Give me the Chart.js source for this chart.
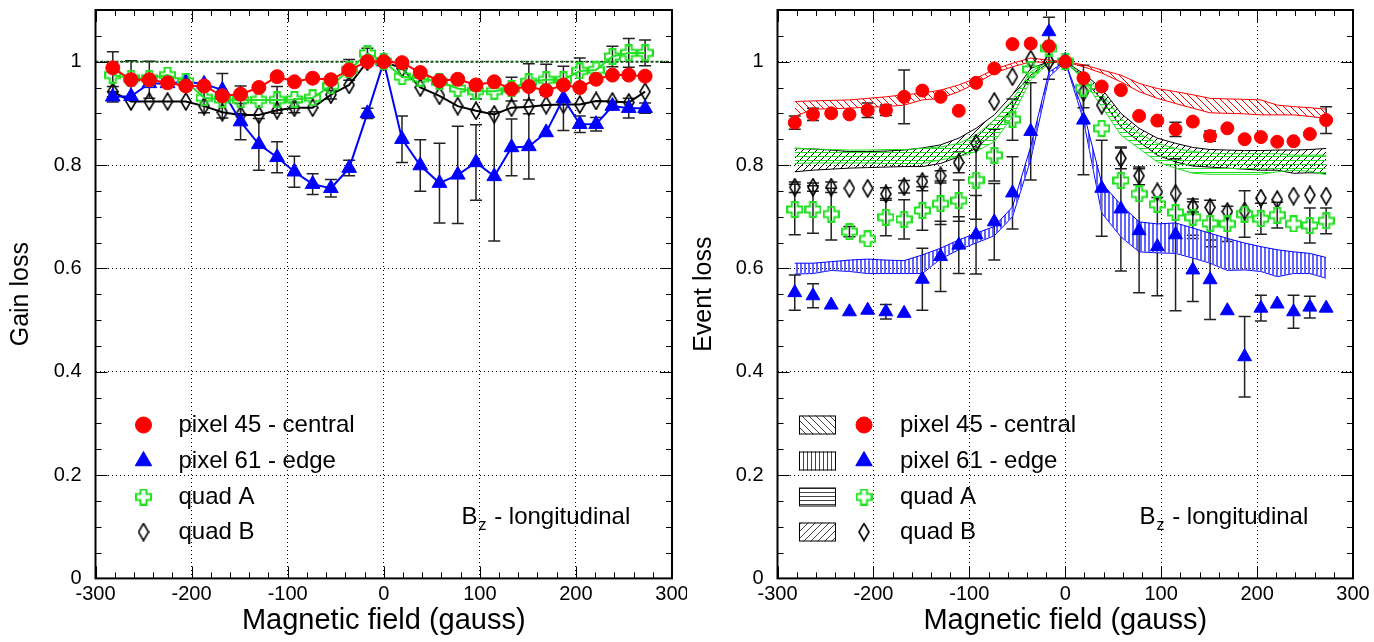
<!DOCTYPE html>
<html>
<head>
<meta charset="utf-8">
<script src="https://cdn.jsdelivr.net/npm/chart.js@4/dist/chart.umd.min.js"></script>
<style>
  html, body { margin: 0; padding: 0; background: #fff; }
  #wrap { display: flex; width: 1374px; height: 642px; }
  canvas { display: block; }
</style>
</head>
<body>
<div id="wrap">
  <canvas id="gainChart" width="687" height="642"></canvas>
  <canvas id="eventChart" width="687" height="642"></canvas>
</div>
<script>
// magnetic field values (gauss), shared by every series
var FIELD = [-282, -263, -244, -225, -206, -187, -168, -149, -130, -111, -93, -74, -55, -36, -17, 0,
             19, 38, 58, 77, 96, 115, 133, 151, 169, 187, 204, 221, 238, 255, 272];

var SERIES_NAMES = ['pixel 45 - central', 'pixel 61 - edge', 'quad A', 'quad B'];
var X_TICKS = [-300, 300, 100];
var Y_TICKS = [0, 1.1, 0.2];

// ---- left panel: gain loss ----
var gainPix45 = [0.988, 0.965, 0.965, 0.959, 0.953, 0.953, 0.934, 0.937, 0.950, 0.971, 0.961, 0.968, 0.965, 0.984, 1.0, 1.0,
                 0.998, 0.979, 0.963, 0.966, 0.955, 0.961, 0.947, 0.952, 0.944, 0.955, 0.950, 0.966, 0.974, 0.974, 0.972];
var gainPix61 = [0.932, 0.933, 0.958, 0.958, 0.961, 0.957, 0.945, 0.884, 0.840, 0.815, 0.787, 0.763, 0.755, 0.794, 0.900, 1.0,
                 0.850, 0.799, 0.765, 0.781, 0.805, 0.778, 0.834, 0.836, 0.863, 0.929, 0.879, 0.879, 0.914, 0.910, 0.910];
var gainQuadA = [0.974, 0.968, 0.968, 0.974, 0.962, 0.930, 0.927, 0.926, 0.926, 0.926, 0.927, 0.930, 0.953, 0.984, 1.016, 1.0,
                 0.971, 0.968, 0.961, 0.948, 0.943, 0.943, 0.948, 0.961, 0.965, 0.965, 0.982, 0.984, 1.010, 1.017, 1.017];
var gainQuadB = [0.942, 0.923, 0.923, 0.923, 0.923, 0.914, 0.902, 0.897, 0.897, 0.906, 0.911, 0.911, 0.936, 0.955, 1.0, 1.0,
                 0.987, 0.950, 0.934, 0.914, 0.905, 0.898, 0.911, 0.913, 0.916, 0.917, 0.917, 0.924, 0.923, 0.921, 0.942];

var gainPix45Err = [0, 0.037, 0.036, 0, 0, 0, 0.043, 0, 0, 0, 0, 0, 0, 0.02, 0, 0,
                    0, 0, 0, 0, 0, 0, 0.023, 0, 0, 0, 0, 0, 0, 0, 0];
var gainPix61Err = [0.01, 0, 0, 0, 0, 0, 0, 0.035, 0.05, 0.03, 0.03, 0.02, 0.017, 0.015, 0.01, 0,
                    0.045, 0.05, 0.077, 0.094, 0.073, 0.125, 0.055, 0.063, 0, 0.062, 0.016, 0.013, 0, 0.019, 0.01];
var gainQuadAErr = [0.045, 0, 0, 0, 0, 0.029, 0, 0.027, 0, 0.026, 0, 0, 0, 0, 0.01, 0,
                    0, 0, 0, 0, 0.015, 0, 0, 0.035, 0.03, 0, 0.025, 0, 0.02, 0.028, 0.025];
var gainQuadBErr = [0.01, 0, 0, 0, 0, 0, 0, 0, 0, 0, 0.01, 0, 0.008, 0, 0, 0,
                    0, 0, 0, 0, 0, 0, 0, 0, 0, 0, 0, 0, 0, 0, 0];

// ---- right panel: event loss (measured points) ----
var evPix45 = [0.882, 0.898, 0.900, 0.898, 0.906, 0.906, 0.932, 0.944, 0.932, 0.905, 0.959, 0.987, 1.034, 1.035, 1.030, 1.0,
               0.968, 0.952, 0.945, 0.895, 0.886, 0.869, 0.884, 0.856, 0.871, 0.850, 0.854, 0.845, 0.846, 0.860, 0.887];
var evPix61 = [0.553, 0.547, 0.529, 0.516, 0.519, 0.516, 0.513, 0.579, 0.623, 0.645, 0.665, 0.690, 0.746, 0.865, 1.058, 1.0,
               0.887, 0.755, 0.715, 0.673, 0.642, 0.665, 0.597, 0.578, 0.518, 0.429, 0.523, 0.531, 0.516, 0.525, 0.523];
var evQuadA = [0.714, 0.714, 0.705, 0.671, 0.657, 0.699, 0.695, 0.712, 0.725, 0.731, 0.771, 0.819, 0.888, 0.985, 1.026, 1.0,
               0.949, 0.871, 0.770, 0.744, 0.724, 0.708, 0.699, 0.687, 0.686, 0.705, 0.696, 0.703, 0.686, 0.683, 0.692];
var evQuadB = [0.757, 0.757, 0.757, 0.755, 0.755, 0.744, 0.758, 0.768, 0.779, 0.805, 0.842, 0.923, 0.971, 1.005, 1.0, 1.0,
               0.941, 0.916, 0.813, 0.779, 0.748, 0.745, 0.719, 0.718, 0.710, 0.711, 0.736, 0.733, 0.740, 0.742, 0.740];

var evPix45Err = [0.013, 0.012, 0, 0, 0.014, 0.01, 0.052, 0, 0, 0, 0, 0, 0, 0, 0, 0,
                  0, 0, 0, 0, 0, 0.014, 0, 0.01, 0, 0, 0, 0, 0, 0, 0.026];
var evPix61Err = [0.034, 0.023, 0, 0, 0, 0.014, 0, 0.06, 0.068, 0.055, 0.076, 0.074, 0.07, 0.094, 0, 0,
                  0.106, 0.093, 0.12, 0.12, 0.095, 0.147, 0.061, 0.077, 0, 0.078, 0.025, 0, 0.032, 0.021, 0];
var evQuadAErr = [0.049, 0.046, 0.05, 0.01, 0, 0.036, 0.038, 0.038, 0.04, 0.04, 0.076, 0.05, 0.04, 0, 0.06, 0,
                  0, 0, 0, 0, 0, 0, 0.035, 0.045, 0.034, 0.045, 0.03, 0.025, 0, 0.034, 0.025];
var evQuadBErr = [0.01, 0.008, 0.01, 0, 0, 0.012, 0.012, 0.01, 0.01, 0.02, 0, 0, 0, 0, 0, 0,
                  0.03, 0, 0.02, 0.017, 0, 0, 0.01, 0, 0, 0, 0, 0, 0, 0, 0];

// ---- right panel: expected bands (upper / lower edge) ----
var bandPix45Hi = [0.923, 0.924, 0.925, 0.926, 0.929, 0.932, 0.936, 0.939, 0.945, 0.955, 0.968, 0.985, 0.997, 1.007, 1.003, 1.0,
                   0.994, 0.984, 0.974, 0.958, 0.948, 0.942, 0.936, 0.929, 0.928, 0.927, 0.926, 0.916, 0.913, 0.911, 0.908];
var bandPix45Lo = [0.894, 0.908, 0.909, 0.910, 0.912, 0.913, 0.916, 0.926, 0.929, 0.942, 0.958, 0.978, 0.990, 1.0, 0.998, 1.0,
                   0.990, 0.978, 0.961, 0.942, 0.929, 0.919, 0.910, 0.901, 0.900, 0.899, 0.897, 0.897, 0.897, 0.894, 0.890];
var bandPix61Hi = [0.610, 0.610, 0.613, 0.616, 0.618, 0.616, 0.615, 0.626, 0.639, 0.655, 0.668, 0.681, 0.719, 0.836, 0.980, 1.0,
                   0.903, 0.765, 0.723, 0.690, 0.686, 0.688, 0.678, 0.668, 0.658, 0.649, 0.642, 0.636, 0.632, 0.629, 0.621];
var bandPix61Lo = [0.589, 0.590, 0.596, 0.594, 0.590, 0.590, 0.590, 0.590, 0.618, 0.636, 0.649, 0.663, 0.700, 0.810, 0.970, 1.0,
                   0.887, 0.707, 0.661, 0.632, 0.630, 0.629, 0.620, 0.610, 0.596, 0.597, 0.594, 0.584, 0.590, 0.590, 0.581];
var bandQuadAHi = [0.833, 0.831, 0.830, 0.829, 0.829, 0.830, 0.830, 0.832, 0.835, 0.842, 0.858, 0.887, 0.926, 0.981, 1.0, 1.0,
                   0.974, 0.939, 0.890, 0.861, 0.842, 0.832, 0.826, 0.823, 0.822, 0.822, 0.822, 0.822, 0.819, 0.819, 0.819];
var bandQuadALo = [0.803, 0.804, 0.804, 0.804, 0.804, 0.803, 0.803, 0.803, 0.810, 0.816, 0.826, 0.845, 0.894, 0.965, 0.997, 1.0,
                   0.965, 0.913, 0.858, 0.832, 0.806, 0.794, 0.784, 0.782, 0.782, 0.782, 0.782, 0.787, 0.790, 0.788, 0.781];
var bandQuadBHi = [0.832, 0.831, 0.829, 0.826, 0.826, 0.827, 0.829, 0.833, 0.839, 0.852, 0.871, 0.897, 0.936, 0.987, 1.0, 1.0,
                   0.977, 0.948, 0.900, 0.871, 0.852, 0.842, 0.834, 0.830, 0.829, 0.828, 0.828, 0.829, 0.829, 0.830, 0.832];
var bandQuadBLo = [0.787, 0.790, 0.792, 0.794, 0.795, 0.796, 0.797, 0.797, 0.803, 0.816, 0.832, 0.864, 0.910, 0.974, 0.998, 1.0,
                   0.968, 0.926, 0.874, 0.845, 0.819, 0.806, 0.798, 0.796, 0.794, 0.792, 0.790, 0.790, 0.784, 0.785, 0.784];

var RED = '#ff0000', BLUE = '#0000ff', GREEN = '#22e022', BLACK = '#000000';
var FONT = "'Liberation Sans', Arial, Helvetica, sans-serif";

Chart.defaults.font.family = FONT;
Chart.defaults.color = '#000';

function pts(ys) {
  return FIELD.map(function (x, i) { return {x: x, y: ys[i]}; });
}

// hatch fill used for the bands
function hatch(kind, color, size, thick) {
  var c = document.createElement('canvas');
  c.width = size; c.height = size;
  var g = c.getContext('2d');
  g.strokeStyle = color;
  g.fillStyle = color;
  g.lineWidth = 1;
  g.beginPath();
  if (kind === 'back') {
    [-size, 0, size].forEach(function (o) { g.moveTo(o, 0); g.lineTo(o + size, size); });
  } else if (kind === 'fwd') {
    [-size, 0, size].forEach(function (o) { g.moveTo(o, size); g.lineTo(o + size, 0); });
  } else if (kind === 'vert') {
    if (thick) { g.fillRect(1, 0, 2, size); } else { g.moveTo(0.5, 0); g.lineTo(0.5, size); }
  } else {
    g.moveTo(0, 0.5); g.lineTo(size, 0.5);
  }
  g.stroke();
  return g.createPattern(c, 'repeat');
}

function plusMarker(size) {
  var c = document.createElement('canvas');
  c.width = size + 2; c.height = size + 2;
  var g = c.getContext('2d');
  var m = (size + 2) / 2, r = size / 2, a = size / 5;
  g.strokeStyle = GREEN;
  g.lineWidth = 2;
  g.beginPath();
  g.moveTo(m - a, m - r); g.lineTo(m + a, m - r); g.lineTo(m + a, m - a); g.lineTo(m + r, m - a);
  g.lineTo(m + r, m + a); g.lineTo(m + a, m + a); g.lineTo(m + a, m + r); g.lineTo(m - a, m + r);
  g.lineTo(m - a, m + a); g.lineTo(m - r, m + a); g.lineTo(m - r, m - a); g.lineTo(m - a, m - a);
  g.closePath();
  g.stroke();
  return c;
}

function diamondMarker(w, h) {
  var c = document.createElement('canvas');
  c.width = w + 2; c.height = h + 2;
  var g = c.getContext('2d');
  g.strokeStyle = BLACK;
  g.lineWidth = 1.6;
  g.beginPath();
  g.moveTo(w / 2 + 1, 1); g.lineTo(w + 1, h / 2 + 1); g.lineTo(w / 2 + 1, h + 1); g.lineTo(1, h / 2 + 1);
  g.closePath();
  g.stroke();
  return c;
}

var plusImg = plusMarker(15);
var diamondImg = diamondMarker(10, 17);

var MARKERS = [
  {pointStyle: 'circle', radius: 7, color: RED},
  {pointStyle: 'triangle', radius: 8.5, color: BLUE},
  {pointStyle: plusImg, radius: 8, color: GREEN},
  {pointStyle: diamondImg, radius: 8, color: BLACK}
];

var KEY_PATTERNS = [hatch('back', '#444', 7), hatch('vert', '#444', 4), hatch('horiz', '#444', 4), hatch('fwd', '#444', 7)];

// error bars, drawn under the markers
var errorBars = {
  id: 'errorBars',
  beforeDatasetsDraw: function (chart) {
    var ctx = chart.ctx, xs = chart.scales.x, ys = chart.scales.y;
    ctx.save();
    ctx.strokeStyle = '#222';
    ctx.lineWidth = 1.5;
    chart.data.datasets.forEach(function (ds) {
      if (!ds.errors) return;
      ds.data.forEach(function (p, i) {
        var e = ds.errors[i];
        if (!e) return;
        var px = xs.getPixelForValue(p.x);
        var top = ys.getPixelForValue(p.y + e), bot = ys.getPixelForValue(p.y - e);
        ctx.beginPath();
        ctx.moveTo(px, top); ctx.lineTo(px, bot);
        ctx.moveTo(px - 6, top); ctx.lineTo(px + 6, top);
        ctx.moveTo(px - 6, bot); ctx.lineTo(px + 6, bot);
        ctx.stroke();
      });
    });
    ctx.restore();
  }
};

// dark green dotted line at unity (left panel only)
var unityLine = {
  id: 'unityLine',
  beforeDatasetsDraw: function (chart, args, opts) {
    if (!opts.show) return;
    var ctx = chart.ctx, a = chart.chartArea;
    var py = chart.scales.y.getPixelForValue(1);
    ctx.save();
    ctx.strokeStyle = '#0b5a12';
    ctx.lineWidth = 2;
    ctx.setLineDash([3, 2]);
    ctx.beginPath();
    ctx.moveTo(a.left, py); ctx.lineTo(a.right, py);
    ctx.stroke();
    ctx.restore();
  }
};

// thick frame and inward ticks on all four sides
var frame = {
  id: 'frame',
  afterDraw: function (chart) {
    var ctx = chart.ctx, a = chart.chartArea, xs = chart.scales.x, ys = chart.scales.y;
    ctx.save();
    ctx.strokeStyle = '#000';
    ctx.lineWidth = 1;
    ctx.beginPath();
    for (var v = -300; v <= 300; v += 20) {
      var px = Math.round(xs.getPixelForValue(v)) + 0.5;
      var len = v % 100 === 0 ? 12 : 6;
      ctx.moveTo(px, a.bottom); ctx.lineTo(px, a.bottom - len);
      ctx.moveTo(px, a.top); ctx.lineTo(px, a.top + len);
    }
    for (var k = 0; k <= 22; k++) {
      var py = Math.round(ys.getPixelForValue(k * 0.05)) + 0.5;
      var l2 = k % 4 === 0 ? 12 : 6;
      ctx.moveTo(a.left, py); ctx.lineTo(a.left + l2, py);
      ctx.moveTo(a.right, py); ctx.lineTo(a.right - l2, py);
    }
    ctx.stroke();
    ctx.lineWidth = 2;
    ctx.strokeRect(a.left, a.top, a.right - a.left, a.bottom - a.top);
    ctx.restore();
  }
};

// legend inside the plot and the B_z note
var keyAndNote = {
  id: 'keyAndNote',
  afterDraw: function (chart, args, opts) {
    var ctx = chart.ctx, a = chart.chartArea;
    var rows = [415, 451, 487, 522];
    ctx.save();
    ctx.textBaseline = 'middle';
    SERIES_NAMES.forEach(function (name, i) {
      var y = a.top + rows[i];
      if (opts.boxes) {
        ctx.fillStyle = '#fff';
        ctx.fillRect(a.left + opts.boxX, y - 9.5, 37, 19);
        ctx.fillStyle = KEY_PATTERNS[i];
        ctx.fillRect(a.left + opts.boxX, y - 9.5, 37, 19);
        ctx.strokeStyle = '#000';
        ctx.lineWidth = 1;
        ctx.strokeRect(a.left + opts.boxX + 0.5, y - 9, 36, 18);
      }
      var m = MARKERS[i];
      ctx.fillStyle = m.color;
      ctx.strokeStyle = m.color;
      ctx.lineWidth = 1;
      Chart.helpers.drawPoint(ctx, {pointStyle: m.pointStyle, rotation: 0, radius: m.radius + 1, borderWidth: 1},
        a.left + opts.markX, y);
      ctx.fillStyle = '#000';
      ctx.font = '24px ' + FONT;
      ctx.fillText(name, a.left + opts.textX, y);
    });
    var nx = a.left + opts.noteX, ny = a.top + 507;
    ctx.font = '24px ' + FONT;
    ctx.fillText('B', nx, ny);
    var bw = ctx.measureText('B').width;
    ctx.font = '16px ' + FONT;
    ctx.fillText('z', nx + bw + 1, ny + 9);
    var zw = ctx.measureText('z').width;
    ctx.font = '24px ' + FONT;
    ctx.fillText(' - longitudinal', nx + bw + zw + 2, ny);
    ctx.restore();
  }
};

function scales(yTitle, yWidth, titlePad) {
  return {
    x: {
      type: 'linear', min: X_TICKS[0], max: X_TICKS[1], bounds: 'data',
      ticks: {stepSize: X_TICKS[2], padding: 4, font: {size: 20}, color: '#000', maxRotation: 0},
      grid: {color: '#000', lineWidth: 1, drawTicks: false},
      border: {display: false, dash: [1, 3]},
      title: {display: true, text: 'Magnetic field (gauss)', font: {size: 29}, padding: {top: 0, bottom: 4}},
      afterFit: function (s) { s.height = 63.6; s.paddingLeft = 0; s.paddingRight = 0; }
    },
    y: {
      type: 'linear', min: Y_TICKS[0], max: Y_TICKS[1], bounds: 'data',
      ticks: {stepSize: Y_TICKS[2], includeBounds: false, padding: 14, font: {size: 20}, color: '#000',
              callback: function (v) { return v > 1.05 ? null : String(+v.toFixed(2)); }},
      grid: {color: '#000', lineWidth: 1, drawTicks: false},
      border: {display: false, dash: [1, 3]},
      title: {display: true, text: yTitle, font: {size: 25}, padding: {top: titlePad, bottom: 0}},
      afterFit: function (s) { s.width = yWidth; s.paddingTop = 0; s.paddingBottom = 0; }
    }
  };
}

function baseOptions(yTitle, yWidth, titlePad, rightPad, plugOpts) {
  return {
    responsive: false,
    animation: false,
    events: [],
    layout: {padding: {left: 0, right: rightPad, top: 10, bottom: 0}},
    elements: {line: {tension: 0}},
    scales: scales(yTitle, yWidth, titlePad),
    plugins: {
      legend: {display: false},
      tooltip: {enabled: false},
      unityLine: plugOpts.unity,
      keyAndNote: plugOpts.key
    }
  };
}

// ---- left chart ----
var gainSeries = [gainPix45, gainPix61, gainQuadA, gainQuadB];
var gainErrs = [gainPix45Err, gainPix61Err, gainQuadAErr, gainQuadBErr];
var gainOrder = [0, 2, 1, 3];

new Chart(document.getElementById('gainChart'), {
  type: 'line',
  data: {
    datasets: gainSeries.map(function (ys, i) {
      var m = MARKERS[i];
      return {
        label: SERIES_NAMES[i], data: pts(ys), errors: gainErrs[i],
        borderColor: m.color, backgroundColor: m.color, borderWidth: 2,
        pointStyle: m.pointStyle, pointRadius: m.radius, pointBorderWidth: 1,
        fill: false, order: gainOrder[i]
      };
    })
  },
  options: baseOptions('Gain loss', 95.5, 6, 15, {
    unity: {show: true},
    key: {boxes: false, markX: 48, textX: 83, noteX: 366}
  }),
  plugins: [errorBars, unityLine, frame, keyAndNote]
});

// ---- right chart ----
var evSeries = [evPix45, evPix61, evQuadA, evQuadB];
var evErrs = [evPix45Err, evPix61Err, evQuadAErr, evQuadBErr];
var bands = [
  [bandPix45Hi, bandPix45Lo, RED, hatch('back', RED, 7)],
  [bandPix61Hi, bandPix61Lo, BLUE, hatch('vert', '#6464ff', 4, true)],
  [bandQuadAHi, bandQuadALo, GREEN, hatch('horiz', GREEN, 4)],
  [bandQuadBHi, bandQuadBLo, BLACK, hatch('fwd', BLACK, 7)]
];

var evDatasets = evSeries.map(function (ys, i) {
  var m = MARKERS[i];
  return {
    label: SERIES_NAMES[i], data: pts(ys), errors: evErrs[i], showLine: false,
    borderColor: m.color, backgroundColor: m.color,
    pointStyle: m.pointStyle, pointRadius: m.radius - 0.5, pointBorderWidth: 1,
    fill: false, order: i
  };
});
bands.forEach(function (b, i) {
  evDatasets.push({
    label: SERIES_NAMES[i] + ' band', data: pts(b[0]), borderColor: b[2], borderWidth: 1,
    backgroundColor: b[3], pointRadius: 0, fill: '+1', order: 10 + i
  });
  evDatasets.push({
    label: SERIES_NAMES[i] + ' band low', data: pts(b[1]), borderColor: b[2], borderWidth: 1,
    backgroundColor: 'rgba(0,0,0,0)', pointRadius: 0, fill: false, order: 10 + i
  });
});

new Chart(document.getElementById('eventChart'), {
  type: 'line',
  data: {datasets: evDatasets},
  options: baseOptions('Event loss', 90.5, 2, 21, {
    unity: {show: false},
    key: {boxes: true, boxX: 21.5, markX: 86.5, textX: 122.5, noteX: 362}
  }),
  plugins: [errorBars, unityLine, frame, keyAndNote]
});
</script>
</body>
</html>
